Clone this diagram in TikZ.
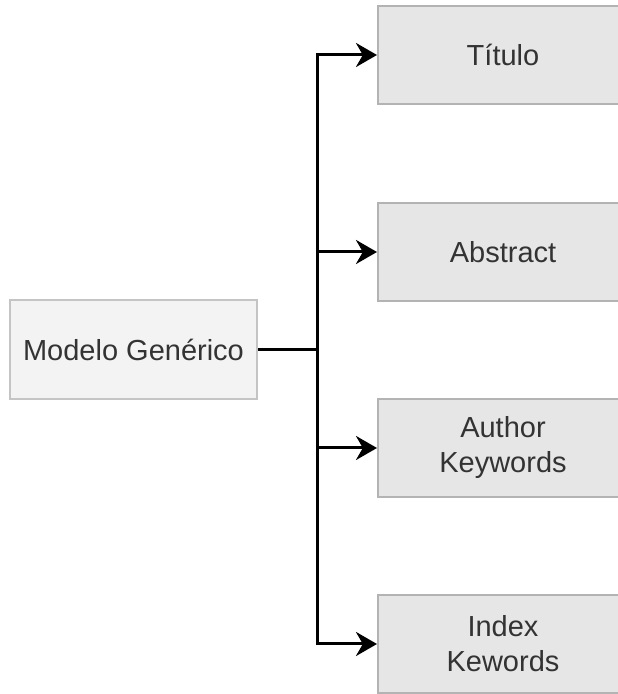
\documentclass[tikz,border=0pt]{standalone}
\usepackage{fontspec}
\setmainfont{Liberation Sans}
\usetikzlibrary{arrows.meta}
\definecolor{leftfill}{HTML}{F3F3F3}
\definecolor{leftdraw}{HTML}{C4C4C4}
\definecolor{boxfill}{HTML}{E6E6E6}
\definecolor{boxdraw}{HTML}{B3B3B3}
\definecolor{txt}{HTML}{333333}
\begin{document}
\begin{tikzpicture}[x=1pt, y=1pt, >={Stealth[length=21pt,width=24pt]},
    field/.style={draw=boxdraw, fill=boxfill, line width=2pt, minimum width=250pt,
        minimum height=98pt, align=center, text=txt, font=\fontsize{29}{35}\selectfont},
    model/.style={draw=leftdraw, fill=leftfill, line width=2pt, minimum width=247pt,
        minimum height=99pt, text=txt, font=\fontsize{29}{35}\selectfont}]
    \useasboundingbox (0,0) rectangle (618,694);
    \node[model] (modelo) at (133.5,344.5) {Modelo Genérico};
    \node[field] (titulo) at (503,639) {Título};
    \node[field] (abstract) at (503,442) {Abstract};
    \node[field] (author) at (503,246) {Author\\Keywords};
    \node[field] (index) at (503,50) {Index\\Kewords};
    \coordinate (split) at (317,344.5);
    \draw[line width=3pt] (modelo.east) -- (split);
    \foreach \b in {titulo, abstract, author, index}
        \draw[->, line width=3pt] (split) |- (\b.west);
\end{tikzpicture}
\end{document}
